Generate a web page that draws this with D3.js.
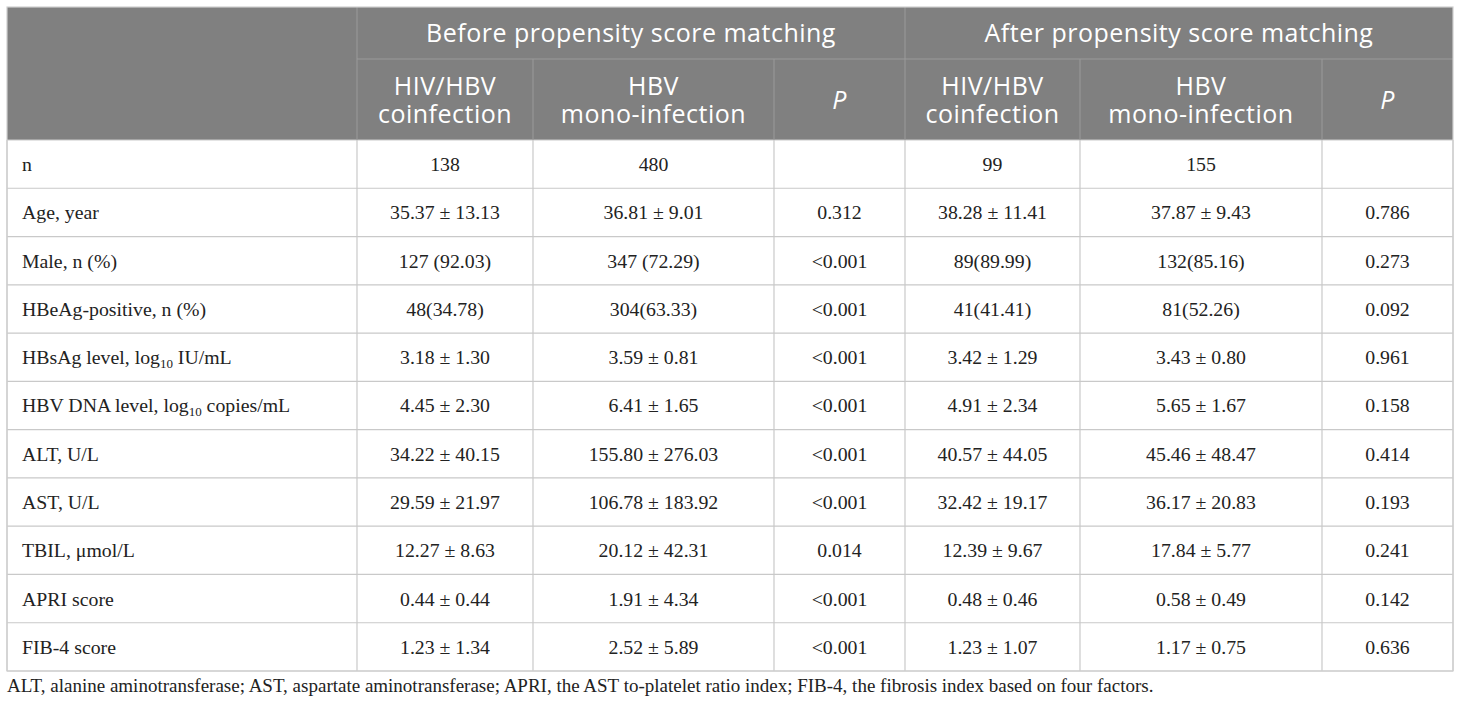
<!DOCTYPE html>
<html>
<head>
<meta charset="utf-8">
<script src="https://cdn.jsdelivr.net/npm/d3@7"></script>
<style>
  body { margin: 0; background: #fff; }
  svg { display: block; }
</style>
</head>
<body>
<div id="table"></div>
<script>
// Table size
var width = 1460;
var height = 709;

// Row labels (a "|" marks the log10 subscript)
var rowLabels = ["n", "Age, year", "Male, n (%)", "HBeAg-positive, n (%)",
  "HBsAg level, log|10| IU/mL", "HBV DNA level, log|10| copies/mL",
  "ALT, U/L", "AST, U/L", "TBIL, \u03bcmol/L", "APRI score", "FIB-4 score"];

// Before propensity score matching
var beforeCo = ["138", "35.37 \u00b1 13.13", "127 (92.03)", "48(34.78)", "3.18 \u00b1 1.30",
  "4.45 \u00b1 2.30", "34.22 \u00b1 40.15", "29.59 \u00b1 21.97", "12.27 \u00b1 8.63",
  "0.44 \u00b1 0.44", "1.23 \u00b1 1.34"];
var beforeMono = ["480", "36.81 \u00b1 9.01", "347 (72.29)", "304(63.33)", "3.59 \u00b1 0.81",
  "6.41 \u00b1 1.65", "155.80 \u00b1 276.03", "106.78 \u00b1 183.92", "20.12 \u00b1 42.31",
  "1.91 \u00b1 4.34", "2.52 \u00b1 5.89"];
var beforeP = ["", "0.312", "<0.001", "<0.001", "<0.001", "<0.001", "<0.001", "<0.001",
  "0.014", "<0.001", "<0.001"];

// After propensity score matching
var afterCo = ["99", "38.28 \u00b1 11.41", "89(89.99)", "41(41.41)", "3.42 \u00b1 1.29",
  "4.91 \u00b1 2.34", "40.57 \u00b1 44.05", "32.42 \u00b1 19.17", "12.39 \u00b1 9.67",
  "0.48 \u00b1 0.46", "1.23 \u00b1 1.07"];
var afterMono = ["155", "37.87 \u00b1 9.43", "132(85.16)", "81(52.26)", "3.43 \u00b1 0.80",
  "5.65 \u00b1 1.67", "45.46 \u00b1 48.47", "36.17 \u00b1 20.83", "17.84 \u00b1 5.77",
  "0.58 \u00b1 0.49", "1.17 \u00b1 0.75"];
var afterP = ["", "0.786", "0.273", "0.092", "0.961", "0.158", "0.414", "0.193",
  "0.241", "0.142", "0.636"];

// Header texts
var groupHeads = ["Before propensity score matching", "After propensity score matching"];
var subHeads = [["HIV/HBV", "coinfection"], ["HBV", "mono-infection"], ["P"]];

var footnote = "ALT, alanine aminotransferase; AST, aspartate aminotransferase; APRI, the AST to-platelet ratio index; FIB-4, the fibrosis index based on four factors.";

// Columns and their edges
var columns = ["label", "bCo", "bMono", "bP", "aCo", "aMono", "aP"];
var colValues = [rowLabels, beforeCo, beforeMono, beforeP, afterCo, afterMono, afterP];
var edges = [7, 357, 533, 774, 905, 1080, 1322, 1453];

var xLeft = d3.scaleOrdinal().domain(columns).range(edges.slice(0, 7));
var xRight = d3.scaleOrdinal().domain(columns).range(edges.slice(1));

// Rows
var headTop = 7, headMid = 59, headBot = 140, tableBot = 671;
var yScale = d3.scaleBand()
  .domain(d3.range(rowLabels.length))
  .range([headBot, tableBot])
  .paddingInner(0);

var svg = d3.select("#table").append("svg")
  .attr("width", width)
  .attr("height", height);

// Header background
svg.append("rect")
  .attr("x", edges[0]).attr("y", headTop)
  .attr("width", edges[7] - edges[0]).attr("height", headBot - headTop)
  .attr("fill", "#808080");

// Body grid lines (horizontal)
var bodyLine = "#c9c9c9";
svg.selectAll("line.hrow")
  .data(d3.range(rowLabels.length + 1))
  .enter().append("line")
  .attr("class", "hrow")
  .attr("x1", edges[0]).attr("x2", edges[7])
  .attr("y1", function(d) { return d < rowLabels.length ? yScale(d) : tableBot; })
  .attr("y2", function(d) { return d < rowLabels.length ? yScale(d) : tableBot; })
  .attr("stroke", bodyLine).attr("stroke-width", 1.2);

// Body grid lines (vertical)
svg.selectAll("line.vbody")
  .data(edges)
  .enter().append("line")
  .attr("class", "vbody")
  .attr("x1", function(d) { return d; }).attr("x2", function(d) { return d; })
  .attr("y1", headBot).attr("y2", tableBot)
  .attr("stroke", bodyLine).attr("stroke-width", 1.2);

// Header lines
var headLine = "#9a9a9a";
svg.selectAll("line.vhead")
  .data([edges[1], edges[4]])
  .enter().append("line")
  .attr("class", "vhead")
  .attr("x1", function(d) { return d; }).attr("x2", function(d) { return d; })
  .attr("y1", headTop).attr("y2", headBot)
  .attr("stroke", headLine).attr("stroke-width", 1);
svg.selectAll("line.vsub")
  .data([edges[2], edges[3], edges[5], edges[6]])
  .enter().append("line")
  .attr("class", "vsub")
  .attr("x1", function(d) { return d; }).attr("x2", function(d) { return d; })
  .attr("y1", headMid).attr("y2", headBot)
  .attr("stroke", headLine).attr("stroke-width", 1);
svg.append("line")
  .attr("x1", edges[1]).attr("x2", edges[7])
  .attr("y1", headMid).attr("y2", headMid)
  .attr("stroke", headLine).attr("stroke-width", 1);

// Outer border
svg.append("rect")
  .attr("x", edges[0]).attr("y", headTop)
  .attr("width", edges[7] - edges[0]).attr("height", tableBot - headTop)
  .attr("fill", "none").attr("stroke", "#cfcfcf").attr("stroke-width", 1.2);

// Header texts
var headFont = "'Open Sans', 'Noto Sans', sans-serif";
svg.selectAll("text.group")
  .data(groupHeads)
  .enter().append("text")
  .attr("class", "group")
  .attr("x", function(d, i) { return (edges[1 + 3 * i] + edges[4 + 3 * i]) / 2; })
  .attr("y", (headTop + headMid) / 2)
  .attr("dy", "0.36em")
  .attr("text-anchor", "middle")
  .attr("fill", "#fff")
  .style("font-family", headFont)
  .style("font-size", "25px")
  .style("letter-spacing", "0.5px")
  .text(function(d) { return d; });

var subCols = columns.slice(1).map(function(c, i) { return { col: c, head: subHeads[i % 3] }; });
var subText = svg.selectAll("text.sub")
  .data(subCols)
  .enter().append("text")
  .attr("class", "sub")
  .attr("text-anchor", "middle")
  .attr("fill", "#fff")
  .style("font-family", headFont)
  .style("font-size", "25px")
  .style("letter-spacing", "0.5px")
  .style("font-style", function(d) { return d.head.length === 1 ? "italic" : "normal"; });

subText.selectAll("tspan")
  .data(function(d) {
    return d.head.map(function(t, j) {
      var x = (xLeft(d.col) + xRight(d.col)) / 2;
      var y = d.head.length === 1 ? (headMid + headBot) / 2 : (j === 0 ? 86 : 114);
      return { t: t, x: x, y: y };
    });
  })
  .enter().append("tspan")
  .attr("x", function(d) { return d.x; })
  .attr("y", function(d) { return d.y; })
  .attr("dy", "0.36em")
  .text(function(d) { return d.t; });

// Body cells
var bodyFont = "'Liberation Serif', 'DejaVu Serif', serif";
columns.forEach(function(col, ci) {
  var cells = svg.selectAll("text.c" + col)
    .data(colValues[ci])
    .enter().append("text")
    .attr("class", "c" + col)
    .attr("y", function(d, i) { return yScale(i) + yScale.bandwidth() / 2; })
    .attr("dy", "0.35em")
    .attr("fill", "#222")
    .style("font-family", bodyFont)
    .style("font-size", "19.8px");

  if (col === "label") {
    cells.attr("x", xLeft(col) + 15).attr("text-anchor", "start");
    cells.selectAll("tspan")
      .data(function(d) {
        return d.split("|").map(function(t, k) { return { t: t, k: k }; });
      })
      .enter().append("tspan")
      .attr("dy", function(d) { return d.k === 1 ? 4 : (d.k === 2 ? -4 : null); })
      .style("font-size", function(d) { return d.k === 1 ? "13px" : null; })
      .text(function(d) { return d.t; });
  } else {
    cells.attr("x", (xLeft(col) + xRight(col)) / 2)
      .attr("text-anchor", "middle")
      .text(function(d) { return d; });
  }
});

// Footnote
svg.append("text")
  .attr("x", edges[0])
  .attr("y", 692)
  .attr("fill", "#222")
  .style("font-family", bodyFont)
  .style("font-size", "19px")
  .text(footnote);
</script>
</body>
</html>
